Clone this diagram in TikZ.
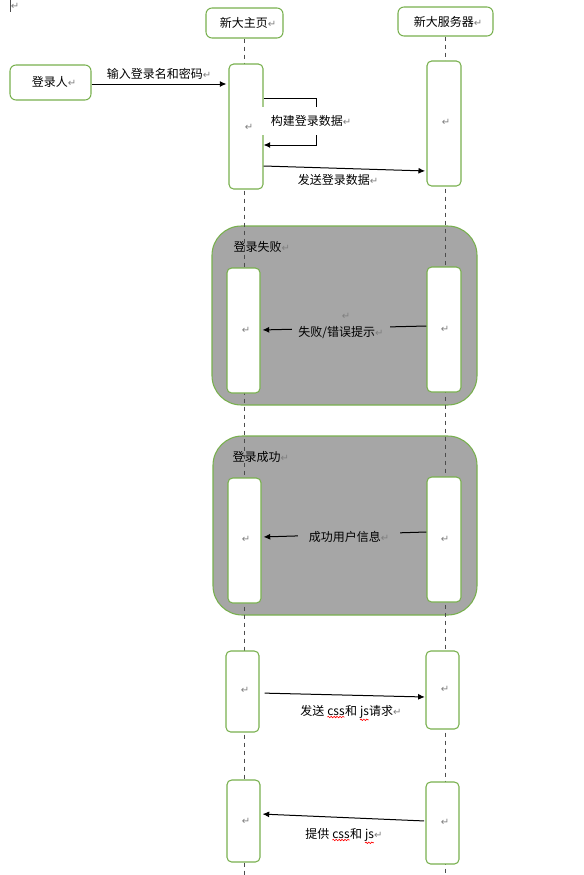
\documentclass[tikz,border=0pt]{standalone}
\usepackage{fontspec}
\setmainfont{Noto Sans CJK SC}
\newfontfamily\dejavu{DejaVu Sans}
\usetikzlibrary{arrows.meta,fit,decorations.pathmorphing}
\definecolor{boxgreen}{RGB}{120,176,78}
\definecolor{grpgray}{RGB}{166,166,166}
\definecolor{pmgray}{RGB}{128,128,128}
\newcommand\redwave[1]{\tikz[baseline=(w.base)]{\node[inner sep=0pt,outer sep=0pt] (w) {#1};
  \draw[red, line width=0.45pt, decorate, decoration={snake, amplitude=0.55pt, segment length=2.2pt}]
    ([yshift=-1.2pt]w.south west) -- ([yshift=-1.2pt]w.south east);}}
\newcommand\parmk{{\dejavu\fontsize{7.5}{8}\selectfont\textcolor{pmgray}{↵}}}
\begin{document}
\begin{tikzpicture}[x=0.75pt,y=-0.75pt,
  font=\fontsize{9}{10}\selectfont,
  lbox/.style={draw=boxgreen, line width=0.8pt, rounded corners=4.5pt, fill=white, inner sep=0pt},
  act/.style={draw=boxgreen, line width=0.8pt, rounded corners=3.5pt, fill=white, inner sep=0pt},
  grp/.style={draw=boxgreen, line width=0.8pt, rounded corners=22pt, fill=grpgray, inner sep=0pt},
  life/.style={draw=black!70, line width=0.75pt, dash pattern=on 3.5pt off 2.5pt},
  msg/.style={draw=black, line width=0.75pt, -{Latex[length=5pt,width=4.5pt]}},
  lbl/.style={inner sep=1pt},
  gaplbl/.style={fill=grpgray, inner sep=0pt, minimum height=13pt},
]
\path[use as bounding box] (0,0) rectangle (584,875);

% top-left marks
\draw[black!70, line width=0.6pt] (10.5,0) -- (10.5,12);
\node[lbl] (tl) at (15,6) {\parmk};

% heads
\node[lbox, fit={(206,8) (283,38)}] (h1) {};
\node[lbox, fit={(398,7) (493,36)}] (h2) {};
\node[lbox, fit={(10,65) (91,100)}] (p) {};
\node[lbl] (h1t) at (248,23) {新大主页\parmk};
\node[lbl] (h2t) at (448,22) {新大服务器\parmk};
\node[lbl] (pt) at (54,82) {登录人\parmk};

% groups
\node[grp, fit={(212,226) (477,405)}] (g1) {};
\node[grp, fit={(213,436) (477,615)}] (g2) {};
\node[lbl, anchor=west] (g1l) at (232,247) {登录失败\parmk};
\node[lbl, anchor=west] (g2l) at (231,457) {登录成功\parmk};
\node[lbl] (g1m) at (346,316) {\parmk};

% lifelines
\coordinate (e1) at (h1.south |- 0,875);
\coordinate (e2) at (h2.south |- 0,875);
\draw[life] (h1.south) -- (e1);
\draw[life] (h2.south) -- (e2);

% activations
\node[act, fit={(229,64) (263,189)}] (a1) {};
\node[act, fit={(427,61) (461,186)}] (a2) {};
\node[act, fit={(227,268) (260,393)}] (f1) {};
\node[act, fit={(427,267) (461,392)}] (f2) {};
\node[act, fit={(228,478) (261,603)}] (s1) {};
\node[act, fit={(427,477) (461,602)}] (s2) {};
\node[act, fit={(226,651) (259,732)}] (c1) {};
\node[act, fit={(426,651) (459,729)}] (c2) {};
\node[act, fit={(227,780) (260,862)}] (d1) {};
\node[act, fit={(426,782) (459,864)}] (d2) {};
\node[lbl] (a1t) at (249,127) {\parmk};
\node[lbl] (a2t) at (446,122) {\parmk};
\node[lbl] (f1t) at (246,330) {\parmk};
\node[lbl] (f2t) at (445,329) {\parmk};
\node[lbl] (s1t) at (246,539) {\parmk};
\node[lbl] (s2t) at (445,539) {\parmk};
\node[lbl] (c1t) at (245,690) {\parmk};
\node[lbl] (c2t) at (445,689) {\parmk};
\node[lbl] (d1t) at (246,821) {\parmk};
\node[lbl] (d2t) at (445,822) {\parmk};

% message 1
\draw[msg, shorten >=1.5pt] (p.east |- 0,84) -- (a1.west |- 0,84);
\node[lbl] (m1) at (159,74) {输入登录名和密码\parmk};

% self loop
\coordinate (lp1) at (316,98);
\coordinate (lp2) at (316,145);
\draw[msg] (a1.east |- lp1) -- (lp1) -- (lp2) -- (a1.east |- lp2);
\node[fill=white, inner sep=0pt, minimum width=67.5pt, minimum height=21pt] (m2bg) at (307,121) {};
\node[lbl] (m2) at (311,121) {构建登录数据\parmk};

% message 3
\draw[msg, shorten >=1pt] (a1.east |- 0,166) -- (a2.west |- 0,171);
\node[lbl] (m3) at (338,180) {发送登录数据\parmk};

% failure
\draw[msg, shorten >=1.5pt] (f2.west |- 0,326) -- (f1.east |- 0,330);
\node[gaplbl, minimum width=73.5pt] (m4) at (341,333) {失败/错误提示\parmk};

% success
\draw[msg, shorten >=1.5pt] (s2.west |- 0,532) -- (s1.east |- 0,537);
\node[gaplbl, minimum width=76.5pt] (m5) at (349,537) {成功用户信息\parmk};

% css request
\draw[msg, shorten <=3.75pt, shorten >=0.5pt] (c1.east |- 0,693) -- (c2.west |- 0,697);
\node[lbl] (m6) at (351,713) {发送 \redwave{css}和 \redwave{js}请求\parmk};

% css provide
\draw[msg, shorten <=1pt, shorten >=1.5pt] (d2.west |- 0,821) -- (d1.east |- 0,814);
\node[lbl] (m7) at (344,836) {提供 \redwave{css}和 \redwave{js}\parmk};
\end{tikzpicture}
\end{document}
